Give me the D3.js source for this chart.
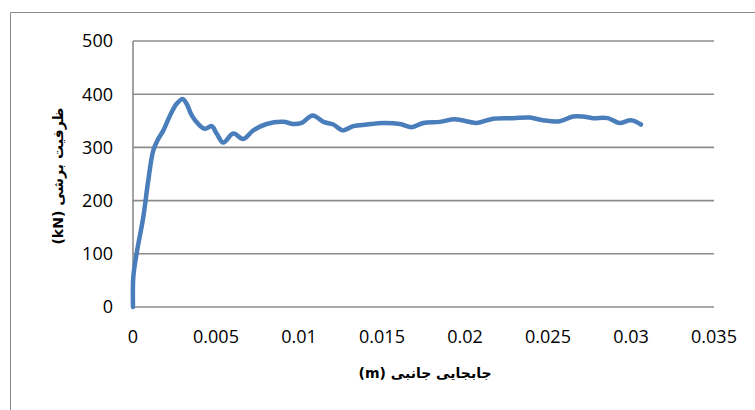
<!DOCTYPE html>
<html><head><meta charset="utf-8">
<script src="https://cdn.jsdelivr.net/npm/d3@7/dist/d3.min.js"></script>
<style>body{margin:0;background:#fff}svg{display:block}</style>
</head><body>
<svg id="c" width="755" height="410"></svg>
<script>
const dispX = [0,0.00002,0.00022,0.00062,0.00092,0.00122,0.00152,0.00183,0.00223,0.00263,0.00299,0.00323,0.00354,0.00393,0.00434,0.00474,0.00504,0.00544,0.00604,0.00664,0.00725,0.00805,0.00905,0.00966,0.01016,0.01082,0.01147,0.01207,0.01263,0.01327,0.01408,0.01508,0.01608,0.01679,0.01749,0.01849,0.0194,0.0207,0.0217,0.0229,0.0239,0.0247,0.0257,0.0265,0.0271,0.0277,0.0286,0.0293,0.03,0.0306];
const shear = [0,57,101,169,238,294,316,332,360,382,391,382,360,344,335,340,326,309,326,316,332,344,348,344,346,360,348,343,332,340,343,346,344,338,346,348,353,346,354,355,356,351,349,358,358,355,355,346,351,343];
const xTicks = [0,0.005,0.01,0.015,0.02,0.025,0.03,0.035];
const xTickLabels = ["0","0.005","0.01","0.015","0.02","0.025","0.03","0.035"];
const yTicks = [0,100,200,300,400,500];
const xTitle = "(m) جابجایی جانبی";
const yTitle = "(kN) ظرفیت برشی";

const svg = d3.select("#c");
const L=133, R=714, T=41, B=307;
const x = d3.scaleLinear().domain([0,0.035]).range([L,R]);
const y = d3.scaleLinear().domain([0,500]).range([B,T]);

// outer border
svg.append("path").attr("d","M10.5,410 V12.5 H755").attr("fill","none").attr("stroke","#8a8a8a").attr("stroke-width",1);

// gridlines
svg.append("g").selectAll("line").data(yTicks.filter(d=>d>0)).join("line")
  .attr("x1",L).attr("x2",R).attr("y1",d=>y(d)).attr("y2",d=>y(d))
  .attr("stroke","#8c8c8c").attr("stroke-width",1.6);

// axes lines
svg.append("line").attr("x1",L).attr("x2",L).attr("y1",T).attr("y2",B).attr("stroke","#8c8c8c").attr("stroke-width",1.6);
svg.append("line").attr("x1",L).attr("x2",R).attr("y1",B).attr("y2",B).attr("stroke","#8c8c8c").attr("stroke-width",1.6);

const tickFont = "'Open Sans', 'Liberation Sans', Arial, sans-serif";
svg.append("g").selectAll("text").data(yTicks).join("text")
  .attr("x",113).attr("y",d=>y(d)).attr("dy","0.36em").attr("text-anchor","end")
  .attr("font-family",tickFont).attr("font-size",18).attr("fill","#000").text(d=>d);
svg.append("g").selectAll("text").data(xTicks).join("text")
  .attr("x",d=>x(d)).attr("y",343).attr("text-anchor","middle")
  .attr("font-family",tickFont).attr("font-size",18).attr("fill","#000").text((d,i)=>xTickLabels[i]);

// titles
svg.append("text").attr("x",425).attr("y",378).attr("text-anchor","middle")
  .attr("font-family","'DejaVu Sans', sans-serif").attr("font-weight","bold").attr("font-size",14)
  .attr("direction","ltr").text(xTitle);
svg.append("text").attr("transform","translate(63,176) rotate(-90)").attr("text-anchor","middle")
  .attr("font-family","'DejaVu Sans', sans-serif").attr("font-weight","bold").attr("font-size",14)
  .attr("direction","ltr").text(yTitle);

// line
const pts = dispX.map((d,i)=>[d,shear[i]]);
const line = d3.line().x(d=>x(d[0])).y(d=>y(d[1])).curve(d3.curveCatmullRom.alpha(0.5));
svg.append("path").datum(pts).attr("d",line).attr("fill","none")
  .attr("stroke","#4a7ebb").attr("stroke-width",4.5).attr("stroke-linejoin","round").attr("stroke-linecap","round");
</script>
</body></html>
